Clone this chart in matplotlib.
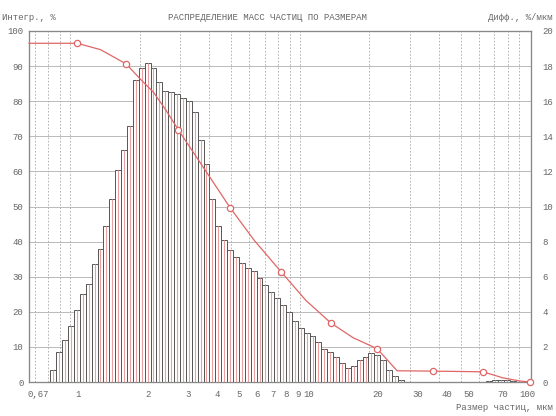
import numpy as np
import matplotlib
matplotlib.use("Agg")
import matplotlib.pyplot as plt
from matplotlib.transforms import ScaledTranslation

# ---- data ----
hist_first_edge = 0.818   # um, lower edge of first bin
hist_bin_ratio = 1.0608   # geometric bin ratio
diff_values = [0.7, 1.7, 2.4, 3.2, 4.1, 5.0, 5.6, 6.7, 7.6, 8.9,
               10.4, 12.1, 13.2, 14.6, 17.2, 17.9, 18.2, 17.9, 17.1, 16.6,
               16.5, 16.4, 16.2, 16.0, 15.4, 13.8, 12.4, 10.4, 8.9, 8.1,
               7.5, 7.1, 6.8, 6.5, 6.3, 5.9, 5.5, 5.1, 4.8, 4.4,
               4.0, 3.5, 3.1, 2.8, 2.6, 2.3, 1.9, 1.7, 1.4, 1.1,
               0.8, 0.9, 1.25, 1.4, 1.65, 1.55, 1.25, 0.7, 0.35, 0.1,
               0, 0, 0, 0, 0, 0, 0, 0, 0, 0,
               0, 0, 0, 0, 0.05, 0.1, 0.12, 0.1, 0.05, 0]

cum_sizes = [0.66, 1.07, 1.35, 1.75, 2.0, 2.3, 2.6, 2.95, 3.8, 4.96, 6.3,
             8.28, 10.6, 13.6, 17.0, 21.6, 26.4, 37.8, 62.5, 76, 90, 100]
cum_values = [96.5, 96.5, 94.7, 90.6, 86.5, 82.5, 77.5, 71.8, 61.0, 49.6, 40.4,
              31.3, 23.2, 16.8, 12.6, 9.5, 3.2, 3.1, 2.9, 1.2, 0.3, 0.0]
cum_marker_idx = [1, 3, 7, 9, 11, 13, 15, 17, 18, 21]

xtick_vals = [0.67, 1, 2, 3, 4, 5, 6, 7, 8, 9, 10, 20, 30, 40, 50, 70, 100]
xtick_labels = ["0,67", "1", "2", "3", "4", "5", "6", "7", "8", "9", "10",
                "20", "30", "40", "50", "70", "100"]
xgrid_vals = [0.7, 0.8, 0.9, 1, 2, 3, 4, 5, 6, 7, 8, 9, 10,
              20, 30, 40, 50, 60, 70, 80, 90]
left_ticks = list(range(0, 101, 10))
right_ticks = list(range(0, 21, 2))

title = "РАСПРЕДЕЛЕНИЕ МАСС ЧАСТИЦ ПО РАЗМЕРАМ"
left_label = "Интегр., %"
right_label = "Дифф., %/мкм"
x_label = "Размер частиц, мкм"

# ---- style ----
FONT = "Liberation Mono"
FS = 6.5
TXT = "#666666"
RED = "#e06666"
PINK = "#eaa0a0"
EDGE = "#555555"

fig = plt.figure(figsize=(5.56, 4.16), dpi=100)
W, H = 556, 416
L, R, T, B = 29, 531, 31, 382
ax = fig.add_axes([L / W, 1 - B / H, (R - L) / W, (B - T) / H])
ax.set_xscale("log")
ax.set_xlim(0.66, 101)
ax.set_ylim(0, 100)

ax2 = ax.twinx()
ax2.set_ylim(0, 20)

# grid
for g in xgrid_vals:
    ax.axvline(g, color="#aaaaaa", lw=0.6, ls=(0, (2, 2)), zorder=0)
for g in left_ticks[1:-1]:
    ax.axhline(g, color="#b0b0b0", lw=0.6, zorder=0)

# histogram (right axis)
edges = [hist_first_edge]
for _ in diff_values:
    edges.append(edges[-1] * hist_bin_ratio)
edges = np.array(edges)
lefts = edges[:-1]
widths = np.diff(edges)
vals = np.array(diff_values)
mask = vals > 0
ax2.bar(lefts[mask], vals[mask], width=widths[mask], align="edge",
        facecolor="white", edgecolor=EDGE, linewidth=0.7, zorder=2)
centers = np.sqrt(edges[:-1] * edges[1:])
ax2.vlines(centers[mask], 0, vals[mask], color=PINK, lw=0.8, zorder=3)

# cumulative curve (left axis scale) drawn on top
ax3 = ax2.twinx()
ax3.set_ylim(0, 100)
ax3.set_yticks([])
ax3.plot(cum_sizes, cum_values, color=RED, lw=0.9, zorder=5,
         marker="o", markevery=cum_marker_idx, markersize=4.5,
         markerfacecolor="white", markeredgecolor=RED, markeredgewidth=0.9,
         clip_on=False)

# restore right-side ticks on ax2 (twinx moves them left)
ax2.yaxis.tick_right()
ax2.yaxis.set_label_position("right")

for a in (ax, ax2, ax3):
    for s in a.spines.values():
        s.set_color("#888888")
        s.set_linewidth(0.8)
    a.tick_params(length=0)

ax.set_yticks(left_ticks)
ax.set_yticklabels([str(v) for v in left_ticks], fontfamily=FONT,
                   fontsize=FS, color=TXT)
ax.tick_params(axis="y", pad=4, left=False, right=False,
               labelleft=True, labelright=False)
ax2.set_yticks(right_ticks)
ax2.set_yticklabels([str(v) for v in right_ticks], fontfamily=FONT,
                    fontsize=FS, color=TXT)
ax2.tick_params(axis="y", pad=8, labelleft=False, labelright=True)

ax.set_xticks(xtick_vals)
ax.set_xticks([], minor=True)
ax.set_xticklabels(xtick_labels, fontfamily=FONT, fontsize=FS, color=TXT)
ax.tick_params(axis="x", pad=6)
for a in (ax2, ax3):
    a.set_xticks([], minor=True)
for i, lab in enumerate(ax.get_xticklabels()):
    dx = 8 if i < len(xtick_labels) - 1 else -3
    lab.set_transform(lab.get_transform() +
                      ScaledTranslation(dx / 100, 0, fig.dpi_scale_trans))

fig.text(2 / W, 1 - 18 / H, left_label, fontfamily=FONT, fontsize=FS,
         color=TXT, va="center", ha="left")
fig.text(267 / W, 1 - 18 / H, title, fontfamily=FONT, fontsize=FS,
         color=TXT, va="center", ha="center")
fig.text(553 / W, 1 - 18 / H, right_label, fontfamily=FONT, fontsize=FS,
         color=TXT, va="center", ha="right")
fig.text(553 / W, 1 - 408 / H, x_label, fontfamily=FONT, fontsize=FS,
         color=TXT, va="center", ha="right")

fig.savefig("out.png", dpi=100)
